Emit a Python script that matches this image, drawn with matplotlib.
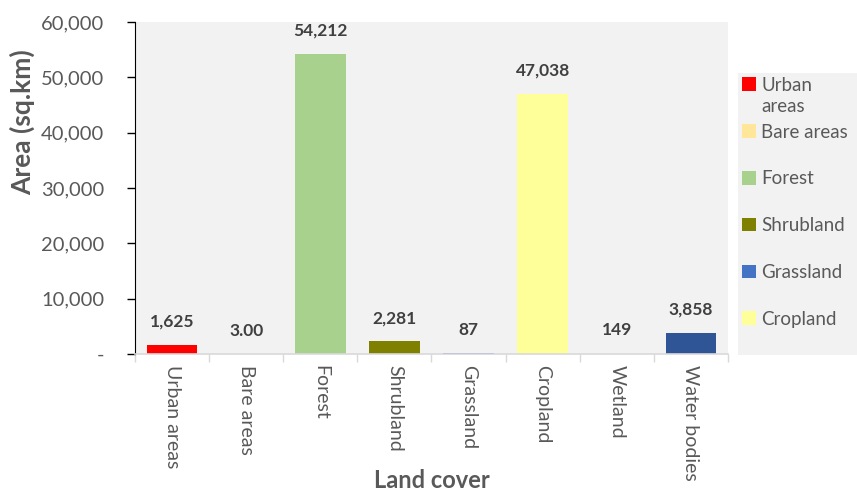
import matplotlib.pyplot as plt
from matplotlib.patches import Rectangle
from matplotlib.ticker import FuncFormatter

# Land cover areas (sq.km)
categories = ["Urban areas", "Bare areas", "Forest", "Shrubland",
              "Grassland", "Cropland", "Wetland", "Water bodies"]
areas = [1625, 3.00, 54212, 2281, 87, 47038, 149, 3858]
value_labels = ["1,625", "3.00", "54,212", "2,281", "87", "47,038", "149", "3,858"]
colors = ["#FF0000", "#FFE699", "#A9D18E", "#808000",
          "#4472C4", "#FFFF99", "#F2F2F2", "#2F5597"]
legend_labels = ["Urban", "Bare areas", "Forest", "Shrubland", "Grassland", "Cropland"]

plt.rcParams['font.family'] = ['Lato', 'DejaVu Sans']
text_grey = "#595959"
bg_grey = "#F2F2F2"

fig = plt.figure(figsize=(8.57, 4.93), dpi=100)
ax = fig.add_axes([0.1575, 0.282, 0.692, 0.673])
ax.set_facecolor(bg_grey)

x = range(len(categories))
bars = ax.bar(x, areas, width=0.68, color=colors, zorder=2)

# value labels above each bar
for i, (v, lab) in enumerate(zip(areas, value_labels)):
    ax.annotate(lab, (i, v), xytext=(0, 11), textcoords="offset points",
                ha="center", va="bottom", fontsize=12.5, fontweight="bold",
                color="#404040")

ax.set_xlim(-0.5, len(categories) - 0.5)
ax.set_ylim(0, 60000)
ax.set_yticks(range(0, 60001, 10000))
ax.yaxis.set_major_formatter(FuncFormatter(lambda v, p: "-" if v == 0 else f"{int(v):,}"))

# category ticks sit between the bars
ax.set_xticks([i - 0.5 for i in range(len(categories) + 1)])
ax.set_xticklabels([])
ax.set_xticks(list(x), minor=True)
ax.set_xticklabels(categories, minor=True, rotation=270, fontsize=14, color=text_grey)
ax.tick_params(axis="x", which="minor", length=0, pad=8)
ax.tick_params(axis="x", which="major", length=6, color="#D9D9D9", width=1)
ax.tick_params(axis="y", length=6, color="black", width=1, labelsize=14.5,
               labelcolor=text_grey, pad=16)

for side in ["top", "right"]:
    ax.spines[side].set_visible(False)
ax.spines["left"].set_color("black")
ax.spines["bottom"].set_color("#D9D9D9")
ax.spines["bottom"].set_linewidth(1.2)
ax.spines["bottom"].set_zorder(3)

ax.set_ylabel("Area (sq.km)", fontsize=19, fontweight="bold", color=text_grey)
ax.yaxis.set_label_coords(-0.168, 0.70)
ax.set_xlabel("Land cover", fontsize=17, fontweight="bold", color=text_grey)
ax.xaxis.set_label_coords(0.5, -0.346)

# legend panel (Excel style: fixed row height, only first six entries fit)
fig.patches.append(Rectangle((738 / 857, 1 - 355 / 493), 119 / 857, 282 / 493,
                             transform=fig.transFigure, facecolor=bg_grey,
                             edgecolor="none", zorder=0))
leg = fig.legend(bars[:6], legend_labels, loc="upper left",
                 bbox_to_anchor=(0.861, 0.852), borderaxespad=0, fontsize=13.5,
                 frameon=False, handlelength=0.75, handleheight=0.75,
                 handletextpad=0.3, labelspacing=1.59, borderpad=0.2,
                 labelcolor=text_grey)

# wrapped second line of "Urban areas"
fig.canvas.draw()
bb = leg.get_texts()[0].get_window_extent()
fig.text(bb.x0 / fig.bbox.width, (bb.y0 - 4) / fig.bbox.height, "areas",
         fontsize=13.5, color=text_grey, ha="left", va="top")

fig.savefig("out.png", dpi=100)
